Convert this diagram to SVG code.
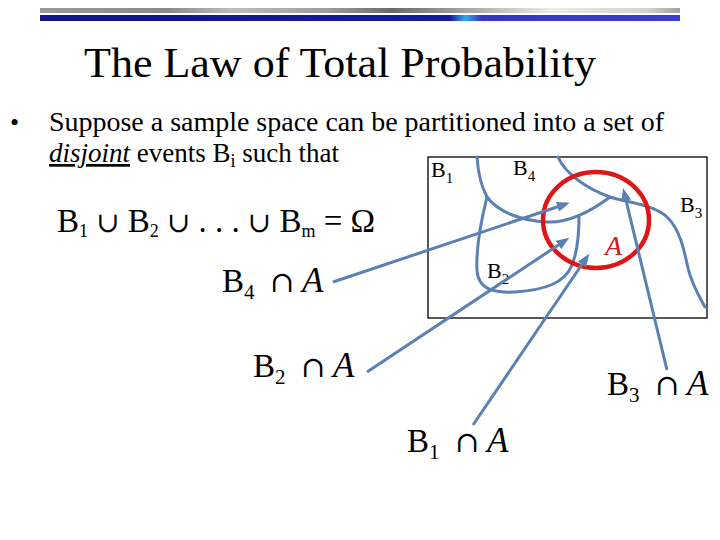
<svg xmlns="http://www.w3.org/2000/svg" width="720" height="540" viewBox="0 0 720 540">
  <defs>
    <linearGradient id="gray" x1="0" y1="0" x2="1" y2="0">
      <stop offset="0" stop-color="#9a9a9a"/>
      <stop offset="0.2" stop-color="#8a8a8a"/>
      <stop offset="0.3" stop-color="#bdbdbd"/>
      <stop offset="0.45" stop-color="#9c9c9c"/>
      <stop offset="0.55" stop-color="#6a6a6a"/>
      <stop offset="0.7" stop-color="#b8b8b8"/>
      <stop offset="0.8" stop-color="#ececec"/>
      <stop offset="0.95" stop-color="#d0d0d0"/>
      <stop offset="1" stop-color="#a0a0a0"/>
    </linearGradient>
    <linearGradient id="blue" x1="0" y1="0" x2="1" y2="0">
      <stop offset="0" stop-color="#14148c"/>
      <stop offset="0.64" stop-color="#1a1aa0"/>
      <stop offset="0.665" stop-color="#3aa8e8"/>
      <stop offset="0.69" stop-color="#3434cc"/>
      <stop offset="1" stop-color="#3c3cdc"/>
    </linearGradient>
    <marker id="ah" markerUnits="userSpaceOnUse" markerWidth="13" markerHeight="10" refX="9" refY="5" orient="auto">
      <path d="M0,0 L13,5 L0,10 z" fill="#5a80b4"/>
    </marker>
  </defs>
  <style>
    .serif { font-family: "Liberation Serif", "Times New Roman", serif; fill: #000; }
    .curve { fill: none; stroke: #5a80b4; stroke-width: 3; stroke-linecap: round; }
    .arrow { fill: none; stroke: #5a80b4; stroke-width: 3; marker-end: url(#ah); }
    .lbl { font-family: "Liberation Serif", "DejaVu Serif", serif; font-size: 33px; fill: #000; }
    .ia { font-style: italic; font-size: 35px; }
    .op { font-family: "DejaVu Serif", serif; }
  </style>

  <rect width="720" height="540" fill="#fff"/>

  <!-- header bars -->
  <rect x="40" y="8" width="640" height="5" fill="url(#gray)"/>
  <rect x="40" y="15" width="640" height="6" fill="url(#blue)"/>

  <!-- title and body text -->
  <text class="serif" x="84" y="77" font-size="43" textLength="512" lengthAdjust="spacingAndGlyphs">The Law of Total Probability</text>
  <text class="serif" x="10" y="131" font-size="26">•</text>
  <text class="serif" x="49" y="131" font-size="27" textLength="615" lengthAdjust="spacingAndGlyphs">Suppose a sample space can be partitioned into a set of</text>
  <text class="serif" x="49" y="162" font-size="27"><tspan font-style="italic" text-decoration="underline">disjoint</tspan> events B<tspan font-size="18" dy="5">i</tspan><tspan dy="-5"> such that</tspan></text>

  <!-- union formula -->
  <text class="lbl" font-size="26" x="57" y="232" textLength="318" lengthAdjust="spacing">B<tspan font-size="18" dy="5">1</tspan><tspan dy="-5"> </tspan><tspan class="op" font-size="28">∪</tspan> B<tspan font-size="18" dy="5">2</tspan><tspan dy="-5"> </tspan><tspan class="op" font-size="28">∪</tspan> . . . <tspan class="op" font-size="28">∪</tspan> B<tspan font-size="18" dy="5">m</tspan><tspan dy="-5"> = Ω</tspan></text>

  <!-- sample space -->
  <g id="space">
    <rect x="428" y="157" width="279" height="161" fill="none" stroke="#000" stroke-width="1.3"/>
    <text class="serif" x="431" y="177" font-size="22">B<tspan font-size="15" dy="6">1</tspan></text>
    <text class="serif" x="513" y="175" font-size="22">B<tspan font-size="15" dy="6">4</tspan></text>
    <text class="serif" x="680" y="212" font-size="22">B<tspan font-size="15" dy="6">3</tspan></text>
    <text class="serif" x="487" y="278" font-size="22">B<tspan font-size="15" dy="6">2</tspan></text>
  </g>

  <g id="boundaries">
    <path class="curve" d="M477,157 C478,172 481,186 487,197"/>
    <path class="curve" d="M487,197 C498,212 522,221 547,222 C568,223 590,212 610,197"/>
    <path class="curve" d="M487,197 C480,225 476,250 477,270 C478,290 495,293 515,292 C545,290 565,283 572,265 C578,250 579,230 579,217"/>
    <path class="curve" d="M558,157 C565,173 585,188 610,197 C630,203 655,205 668,218 C680,230 684,250 688,268 C692,285 700,298 705,307"/>
  </g>

  <g id="event-A">
    <ellipse cx="596" cy="220" rx="53" ry="48" fill="none" stroke="#e01515" stroke-width="4.5"/>
    <text x="605" y="255" font-family="Liberation Serif, serif" font-size="28" font-style="italic" fill="#c42020">A</text>
  </g>

  <!-- labels -->
  <g id="B4A"><text class="lbl" x="222" y="292">B<tspan font-size="21" dy="7">4</tspan><tspan dy="-7" x="270" class="op" font-size="29">∩</tspan><tspan class="ia" x="302">A</tspan></text></g>
  <g id="B2A"><text class="lbl" x="253" y="377">B<tspan font-size="21" dy="7">2</tspan><tspan dy="-7" x="301" class="op" font-size="29">∩</tspan><tspan class="ia" x="333">A</tspan></text></g>
  <g id="B1A"><text class="lbl" x="407" y="452">B<tspan font-size="21" dy="7">1</tspan><tspan dy="-7" x="455" class="op" font-size="29">∩</tspan><tspan class="ia" x="487">A</tspan></text></g>
  <g id="B3A"><text class="lbl" x="607" y="395">B<tspan font-size="21" dy="7">3</tspan><tspan dy="-7" x="655" class="op" font-size="29">∩</tspan><tspan class="ia" x="687">A</tspan></text></g>

  <!-- connectors -->
  <g id="connectors">
    <line class="arrow" x1="333" y1="282" x2="566" y2="204"/>
    <line class="arrow" x1="367" y1="372" x2="566" y2="240"/>
    <line class="arrow" x1="473" y1="425" x2="587" y2="257"/>
    <line class="arrow" x1="667" y1="370" x2="624" y2="192"/>
  </g>
</svg>
